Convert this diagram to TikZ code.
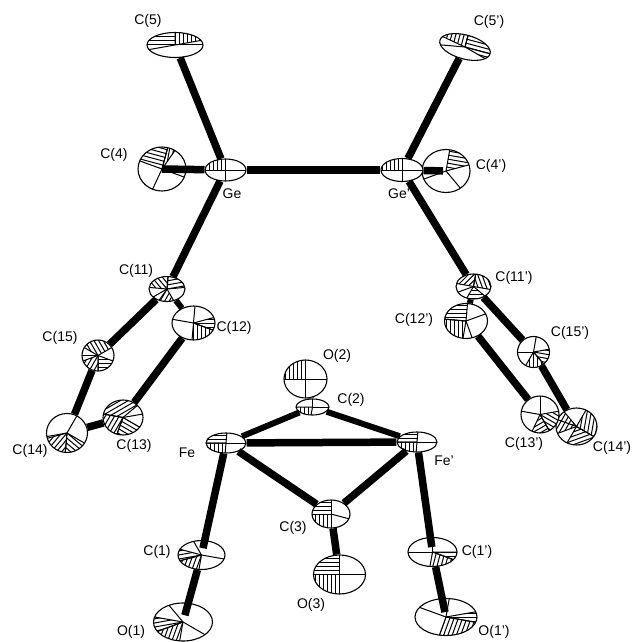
\documentclass[tikz,border=0pt]{standalone}
\usepackage{fontspec}
\setmainfont{Liberation Sans}
\usetikzlibrary{shapes.geometric}
\tikzset{
    atom/.style 2 args={ellipse, draw, fill=white, line width=1.1pt, inner sep=0pt,
        minimum width=#1pt, minimum height=#2pt},
    hatchline/.style={line width=1pt},
    spoke/.style={line width=1pt},
    oct/.style n args={3}{path picture={
        \begin{scope}[shift={(path picture bounding box.center)}, shift={(#1)}]
            \foreach \wa/\wb/\ha in {#2}{
                \begin{scope}
                    \clip (0,0) -- (\wa:70) -- (\wb:70) -- cycle;
                    \pgfmathsetmacro{\hc}{-(\ha)}
                    \pgfmathsetmacro{\hb}{\hc+90}
                    \foreach \hd in {-40,-36,...,40}{
                        \draw[hatchline] ([shift={(\hb:\hd)}]\hc:-70) -- ([shift={(\hb:\hd)}]\hc:70);
                    }
                \end{scope}
                \draw[spoke] (0,0) -- (\wa:70) (0,0) -- (\wb:70);
            }
            \foreach \wa in {#3}{\draw[spoke] (0,0) -- (\wa:70);}
        \end{scope}}},
    bond/.style={line width=7.5pt},
    thinbond/.style={line width=6pt},
    lbl/.style={font=\fontsize{14}{15}\selectfont, inner sep=0pt}
}
\begin{document}
\begin{tikzpicture}[x=1pt, y=-1pt]
    \useasboundingbox (0,0) rectangle (636,642);

    % Ge side
    \node[atom={56}{25}, oct={0,5}{180/270/0, 270/350/90}{0,170}] (C5) at (175,45) {};
    \node[atom={48}{44}, oct={2,2}{200/285/-15, 285/305/80}{20,115}] (C4) at (162,169) {};
    \node[atom={41}{22}, oct={0,0}{180/270/90}{0,90}] (Ge) at (225.5,170) {};
    \node[atom={52}{24}, rotate=-15, oct={-1,3}{190/270/90, 270/375/0}{0,170}] (C5p) at (465,47) {};
    \node[atom={48}{43}, oct={-3,2}{280/345/-10}{160,50}] (C4p) at (446,171) {};
    \node[atom={42}{23}, oct={0,0}{180/270/90}{0,90}] (Gep) at (402,170) {};

    % left ring
    \node[atom={36}{25}, oct={0,1}{185/275/-50, 275/355/10, 60/125/60}{150}] (C11) at (167,289) {};
    \node[atom={43}{34}, oct={-1,-5}{-15/20/0, 20/95/90}{190,275}] (C12) at (193.5,323) {};
    \node[atom={32}{31}, oct={0,-5}{20/90/0, 90/160/60, 210/330/-60}{180}] (C15) at (98,355.5) {};
    \node[atom={40}{35}, oct={2,-3}{30/110/-30, 110/190/60, 190/320/30}{350}] (C13) at (123,417.5) {};
    \node[atom={41}{39}, oct={1,-8}{30/95/-40, 95/165/50}{170,300}] (C14) at (67,433) {};

    % right ring
    \node[atom={35}{25}, oct={0,0}{190/280/45, 280/370/-70, 40/120/0}{160}] (C11p) at (473.5,286.5) {};
    \node[atom={43}{35}, oct={4,-3}{100/185/90, 185/275/0}{-20,70}] (C12p) at (466,321) {};
    \node[atom={32}{31}, oct={-4,-5}{-10/50/-10, 50/120/90}{180,280}] (C15p) at (533.5,352) {};
    \node[atom={41}{37}, oct={1,-2}{-60/30/80, 30/120/20, 160/230/60}{200}] (C14p) at (576.5,426.5) {};
    \node[atom={38}{37}, oct={3,-9}{-10/60/-30, 60/115/30}{190,270}] (C13p) at (540,414.5) {};

    % Fe core
    \node[atom={43}{38}, oct={0,0}{180/270/90}{0,90}] (O2) at (305.5,379) {};
    \node[atom={33}{16}, oct={3,-1}{100/180/90}{0,270}] (C2) at (312.5,407) {};
    \node[atom={40}{20}, oct={1,1}{180/275/0, 95/180/90}{0}] (Fe) at (226,443) {};
    \node[atom={40}{20}, oct={0,1}{180/275/0, 95/180/90}{0}] (Fep) at (417,442) {};
    \node[atom={38}{28}, oct={0,0}{180/270/0, 90/180/90}{15}] (C3) at (331,514) {};
    \node[atom={52}{39}, oct={0,0}{180/270/0, 90/180/90}{0}] (O3) at (339.5,574.5) {};

    % carbonyls
    \node[atom={47}{29}, oct={0,-7}{100/165/70, 165/195/10}{10,240}] (C1) at (201.5,555) {};
    \node[atom={59}{38}, oct={0,-7}{100/160/70, 160/190/10}{30,230}] (O1) at (183,622) {};
    \node[atom={49}{29}, oct={0,-5}{20/100/75, 0/20/0}{180,270}] (C1p) at (432.5,552) {};
    \node[atom={62}{37}, oct={0,-5}{10/110/70, -10/10/0}{200,280}] (O1p) at (446,617) {};

    % Bonds
    \draw[bond] (C5) -- (Ge);
    \draw[bond] (Ge) -- (C4.center);
    \draw[bond] (Ge) -- (Gep);
    \draw[bond] (Gep) -- (C5p);
    \draw[bond, shorten >=3pt] (Gep) -- (C4p.center);
    \draw[bond] (Ge) -- (C11);
    \draw[bond] (Gep) -- (C11p);
    \draw[thinbond] (C11) -- (C12);
    \draw[bond] (C11) -- (C15);
    \draw[bond] (C15) -- (C14);
    \draw[bond] (C14) -- (C13);
    \draw[bond] (C13) -- (C12);
    \draw[thinbond] (C11p) -- (C12p);
    \draw[bond] (C11p) -- (C15p);
    \draw[bond] (C15p) -- (C14p);
    \draw[bond] (C12p) -- (C13p);
    \draw[bond] (O2) -- (C2);
    \draw[thinbond] (C2) -- (Fe);
    \draw[thinbond] (C2) -- (Fep);
    \draw[bond] (Fe) -- (Fep);
    \draw[bond] (Fe) -- (C3);
    \draw[bond] (Fep) -- (C3);
    \draw[bond] (C3) -- (O3);
    \draw[bond, shorten >=7pt] (Fe) -- (C1.center);
    \draw[bond, shorten >=7pt] (C1) -- (O1.center);
    \draw[bond, shorten >=5pt] (Fep) -- (C1p.center);
    \draw[bond, shorten >=5pt] (C1p) -- (O1p.center);

    % Labels
    \node[lbl] (lC5) at (148,21) {C(5)};
    \node[lbl] (lC4) at (114,155) {C(4)};
    \node[lbl] (lGe) at (232,194) {Ge};
    \node[lbl] (lGep) at (399,194) {Ge'};
    \node[lbl] (lC4p) at (491,166) {C(4')};
    \node[lbl] (lC5p) at (489,22) {C(5')};
    \node[lbl] (lC11) at (136,271) {C(11)};
    \node[lbl] (lC12) at (234,328) {C(12)};
    \node[lbl] (lC15) at (60,338) {C(15)};
    \node[lbl] (lC13) at (134,446) {C(13)};
    \node[lbl] (lC14) at (30,451) {C(14)};
    \node[lbl] (lFe) at (187,453) {Fe};
    \node[lbl] (lFep) at (444,461) {Fe'};
    \node[lbl] (lC2) at (351,400) {C(2)};
    \node[lbl] (lO2) at (337,356) {O(2)};
    \node[lbl] (lC3) at (293,528) {C(3)};
    \node[lbl] (lO3) at (311,605) {O(3)};
    \node[lbl] (lC1) at (157,552) {C(1)};
    \node[lbl] (lC1p) at (477,552) {C(1')};
    \node[lbl] (lO1) at (131,632) {O(1)};
    \node[lbl] (lO1p) at (494,632) {O(1')};
    \node[lbl] (lC12p) at (414,320) {C(12')};
    \node[lbl] (lC15p) at (570,333) {C(15')};
    \node[lbl] (lC11p) at (514,278) {C(11')};
    \node[lbl] (lC13p) at (524,444) {C(13')};
    \node[lbl] (lC14p) at (612,448) {C(14')};
\end{tikzpicture}
\end{document}
